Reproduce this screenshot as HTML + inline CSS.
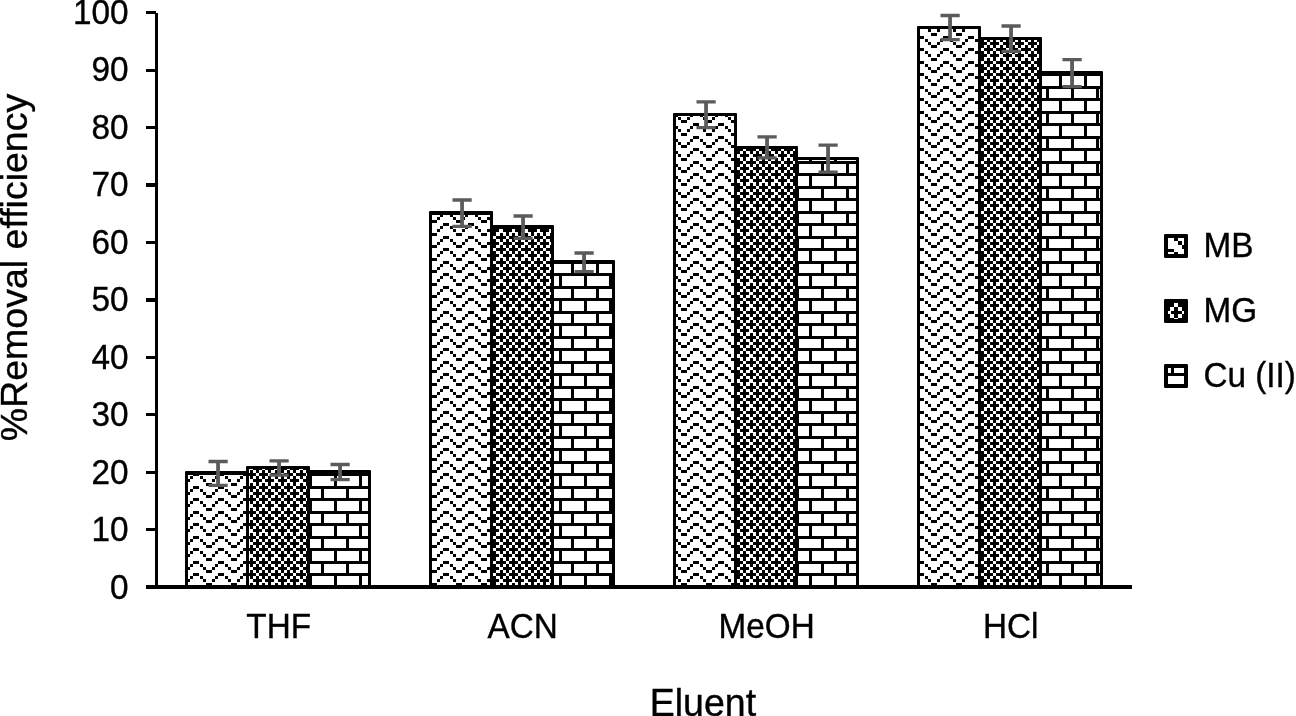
<!DOCTYPE html>
<html lang="en">
<head>
<meta charset="utf-8">
<title>Removal efficiency by eluent</title>
<style>
html,body{margin:0;padding:0;background:#fff;}
body{width:1296px;height:716px;overflow:hidden;font-family:"Liberation Sans",Arial,sans-serif;}
svg{display:block;}
</style>
</head>
<body>
<svg width="1296" height="716" viewBox="0 0 1296 716">
<defs>
<pattern id="pz" patternUnits="userSpaceOnUse" x="0" y="0" width="25" height="25">
<rect width="25" height="25" fill="#fff"/>
<path d="M-4 -2h3v3h-3zM18 -2h3v3h-3zM21 -2h3v3h-3zM0 1h3v3h-3zM15 1h3v3h-3zM25 1h3v3h-3zM3 4h3v3h-3zM12 4h3v3h-3zM6 8h3v3h-3zM9 8h3v3h-3zM-4 11h3v3h-3zM18 11h3v3h-3zM21 11h3v3h-3zM0 14h3v3h-3zM15 14h3v3h-3zM25 14h3v3h-3zM3 17h3v3h-3zM12 17h3v3h-3zM6 20h3v3h-3zM9 20h3v3h-3zM-4 23h3v3h-3zM18 23h3v3h-3zM21 23h3v3h-3zM0 26h3v3h-3zM15 26h3v3h-3zM25 26h3v3h-3z" fill="#000" shape-rendering="crispEdges"/>
</pattern>
<pattern id="pt" patternUnits="userSpaceOnUse" x="0" y="0" width="25" height="25">
<rect width="25" height="25" fill="#fff"/>
<path d="M-4 -2h4v3h-4zM0 -2h3v3h-3zM3 -2h3v3h-3zM9 -2h3v3h-3zM12 -2h3v3h-3zM15 -2h3v3h-3zM21 -2h4v3h-4zM25 -2h3v3h-3zM0 1h3v3h-3zM6 1h3v3h-3zM12 1h3v3h-3zM18 1h3v3h-3zM25 1h3v3h-3zM-4 4h3v3h-3zM3 4h3v3h-3zM6 4h3v4h-3zM9 4h3v3h-3zM15 4h3v3h-3zM18 4h3v4h-3zM21 4h3v3h-3zM0 8h3v3h-3zM6 8h3v3h-3zM12 8h3v3h-3zM18 8h3v3h-3zM25 8h3v3h-3zM-4 11h4v3h-4zM0 11h3v3h-3zM3 11h3v3h-3zM9 11h3v3h-3zM12 11h3v3h-3zM15 11h3v3h-3zM21 11h4v3h-4zM25 11h3v3h-3zM0 14h3v3h-3zM6 14h3v3h-3zM12 14h3v3h-3zM18 14h3v3h-3zM25 14h3v3h-3zM-4 17h3v3h-3zM3 17h3v3h-3zM6 17h3v3h-3zM9 17h3v3h-3zM15 17h3v3h-3zM18 17h3v3h-3zM21 17h3v3h-3zM0 20h3v3h-3zM6 20h3v3h-3zM12 20h3v3h-3zM18 20h3v3h-3zM25 20h3v3h-3zM-4 23h4v3h-4zM0 23h3v3h-3zM3 23h3v3h-3zM9 23h3v3h-3zM12 23h3v3h-3zM15 23h3v3h-3zM21 23h4v3h-4zM25 23h3v3h-3zM0 26h3v3h-3zM6 26h3v3h-3zM12 26h3v3h-3zM18 26h3v3h-3zM25 26h3v3h-3z" fill="#000" shape-rendering="crispEdges"/>
</pattern>
<pattern id="pb" patternUnits="userSpaceOnUse" x="0" y="0" width="25" height="25">
<rect width="25" height="25" fill="#fff"/>
<path d="M-4 -2h4v3h-4zM0 -2h3v3h-3zM3 -2h3v3h-3zM6 -2h3v3h-3zM9 -2h3v3h-3zM12 -2h3v3h-3zM15 -2h3v3h-3zM18 -2h3v3h-3zM21 -2h4v3h-4zM25 -2h3v3h-3zM9 1h3v3h-3zM9 4h3v4h-3zM9 8h3v3h-3zM-4 11h4v3h-4zM0 11h3v3h-3zM3 11h3v3h-3zM6 11h3v3h-3zM9 11h3v3h-3zM12 11h3v3h-3zM15 11h3v3h-3zM18 11h3v3h-3zM21 11h4v3h-4zM25 11h3v3h-3zM-4 14h3v3h-3zM21 14h3v3h-3zM-4 17h3v3h-3zM21 17h3v3h-3zM-4 20h3v3h-3zM21 20h3v3h-3zM-4 23h4v3h-4zM0 23h3v3h-3zM3 23h3v3h-3zM6 23h3v3h-3zM9 23h3v3h-3zM12 23h3v3h-3zM15 23h3v3h-3zM18 23h3v3h-3zM21 23h4v3h-4zM25 23h3v3h-3zM9 26h3v3h-3z" fill="#000" shape-rendering="crispEdges"/>
</pattern>
</defs>
<rect width="1296" height="716" fill="#fff"/>
<g id="bars">
<rect x="185" y="471" width="64" height="117" rx="1" fill="#000"/>
<rect x="246" y="466" width="64" height="122" rx="1" fill="#000"/>
<rect x="307" y="470" width="64" height="118" rx="1" fill="#000"/>
<rect x="429" y="211" width="64" height="377" rx="1" fill="#000"/>
<rect x="490" y="225" width="64" height="363" rx="1" fill="#000"/>
<rect x="551" y="260" width="64" height="328" rx="1" fill="#000"/>
<rect x="673" y="113" width="64" height="475" rx="1" fill="#000"/>
<rect x="734" y="146" width="64" height="442" rx="1" fill="#000"/>
<rect x="795" y="157" width="64" height="431" rx="1" fill="#000"/>
<rect x="917" y="26" width="64" height="562" rx="1" fill="#000"/>
<rect x="978" y="37" width="64" height="551" rx="1" fill="#000"/>
<rect x="1039" y="71" width="64" height="517" rx="1" fill="#000"/>
<rect x="188" y="475" width="58" height="110" fill="url(#pz)" shape-rendering="crispEdges"/>
<rect x="249" y="469" width="58" height="116" fill="url(#pt)" shape-rendering="crispEdges"/>
<rect x="310" y="473" width="58" height="112" fill="url(#pb)" shape-rendering="crispEdges"/>
<rect x="432" y="215" width="58" height="370" fill="url(#pz)" shape-rendering="crispEdges"/>
<rect x="493" y="229" width="58" height="356" fill="url(#pt)" shape-rendering="crispEdges"/>
<rect x="554" y="264" width="58" height="321" fill="url(#pb)" shape-rendering="crispEdges"/>
<rect x="676" y="116" width="58" height="469" fill="url(#pz)" shape-rendering="crispEdges"/>
<rect x="737" y="149" width="58" height="436" fill="url(#pt)" shape-rendering="crispEdges"/>
<rect x="798" y="160" width="58" height="425" fill="url(#pb)" shape-rendering="crispEdges"/>
<rect x="920" y="29" width="58" height="556" fill="url(#pz)" shape-rendering="crispEdges"/>
<rect x="981" y="40" width="58" height="545" fill="url(#pt)" shape-rendering="crispEdges"/>
<rect x="1042" y="74" width="58" height="511" fill="url(#pb)" shape-rendering="crispEdges"/>
</g>
<g id="errorbars" stroke="#5b5b5b" fill="none">
<path d="M218.05 461.5V485.3" stroke-width="3.8"/><path d="M208.5 461.5H227.7M208.5 485.3H227.7" stroke-width="3.3"/>
<path d="M279.05 460.8V475.1" stroke-width="3.8"/><path d="M269.5 460.8H288.7M269.5 475.1H288.7" stroke-width="3.3"/>
<path d="M340.05 464.5V479.6" stroke-width="3.8"/><path d="M330.5 464.5H349.7M330.5 479.6H349.7" stroke-width="3.3"/>
<path d="M462.05 200V226.4" stroke-width="3.8"/><path d="M452.5 200H471.7M452.5 226.4H471.7" stroke-width="3.3"/>
<path d="M523.05 216V238.3" stroke-width="3.8"/><path d="M513.5 216H532.7M513.5 238.3H532.7" stroke-width="3.3"/>
<path d="M584.05 253V271.6" stroke-width="3.8"/><path d="M574.5 253H593.7M574.5 271.6H593.7" stroke-width="3.3"/>
<path d="M706.05 101.9V127.6" stroke-width="3.8"/><path d="M696.5 101.9H715.7M696.5 127.6H715.7" stroke-width="3.3"/>
<path d="M767.05 136.8V157.9" stroke-width="3.8"/><path d="M757.5 136.8H776.7M757.5 157.9H776.7" stroke-width="3.3"/>
<path d="M828.05 145.2V172.1" stroke-width="3.8"/><path d="M818.5 145.2H837.7M818.5 172.1H837.7" stroke-width="3.3"/>
<path d="M950.05 15.5V39.6" stroke-width="3.8"/><path d="M940.5 15.5H959.7M940.5 39.6H959.7" stroke-width="3.3"/>
<path d="M1011.05 26V51.3" stroke-width="3.8"/><path d="M1001.5 26H1020.7M1001.5 51.3H1020.7" stroke-width="3.3"/>
<path d="M1072.05 59.6V86.7" stroke-width="3.8"/><path d="M1062.5 59.6H1081.7M1062.5 86.7H1081.7" stroke-width="3.3"/>
</g>
<g id="axes" fill="#000" shape-rendering="crispEdges">
<rect x="155" y="13" width="3" height="575"/>
<rect x="146" y="585" width="986" height="4"/>
<rect x="146" y="528" width="10" height="3"/>
<rect x="146" y="471" width="10" height="3"/>
<rect x="146" y="413" width="10" height="3"/>
<rect x="146" y="356" width="10" height="3"/>
<rect x="146" y="298" width="10" height="4"/>
<rect x="146" y="241" width="10" height="3"/>
<rect x="146" y="183" width="10" height="4"/>
<rect x="146" y="126" width="10" height="3"/>
<rect x="146" y="69" width="10" height="3"/>
<rect x="146" y="11" width="10" height="3"/>
</g>
<g font-family="'Liberation Sans', Arial, sans-serif" fill="#000" stroke="#000" stroke-width="0.35">
<g font-size="33.33" text-anchor="end">
<text transform="translate(128.6 598.8) scale(1 1.049)">0</text>
<text transform="translate(128.6 541.3) scale(1 1.049)">10</text>
<text transform="translate(128.6 483.8) scale(1 1.049)">20</text>
<text transform="translate(128.6 426.3) scale(1 1.049)">30</text>
<text transform="translate(128.6 368.8) scale(1 1.049)">40</text>
<text transform="translate(128.6 311.3) scale(1 1.049)">50</text>
<text transform="translate(128.6 253.8) scale(1 1.049)">60</text>
<text transform="translate(128.6 196.3) scale(1 1.049)">70</text>
<text transform="translate(128.6 138.8) scale(1 1.049)">80</text>
<text transform="translate(128.6 81.3) scale(1 1.049)">90</text>
<text transform="translate(128.6 23.8) scale(1 1.049)">100</text>
</g>
<g font-size="33.33" text-anchor="middle">
<text transform="translate(278.7 638) scale(1 1.049)">THF</text>
<text transform="translate(522.7 638) scale(1 1.049)">ACN</text>
<text transform="translate(766.7 638) scale(1 1.049)">MeOH</text>
<text transform="translate(1010.7 638) scale(1 1.049)">HCl</text>
</g>
<text font-size="37.5" text-anchor="middle" transform="translate(702.9 715.6) scale(1 1.02)">Eluent</text>
<text font-size="37.5" text-anchor="middle" transform="translate(27.1 267.5) rotate(-90)">%Removal efficiency</text>
<g font-size="33.33">
<rect x="1164" y="234" width="24" height="24" rx="1.2" fill="#000" stroke="none"/>
<path d="M1168 238H1184V254H1168z" fill="#fff" stroke="none" shape-rendering="crispEdges"/>
<path d="M1174 238H1178V241H1174zM1178 241H1182V245H1178zM1182 245H1184V249H1182zM1168 249H1174V252H1168zM1174 252H1178V254H1174z" fill="#000" stroke="none" shape-rendering="crispEdges"/>
<text transform="translate(1203.4 256.9) scale(1 1.049)">MB</text>
<rect x="1164" y="299" width="24" height="24" rx="1.2" fill="#000" stroke="none"/>
<path d="M1174 303H1178V307H1174zM1170 307H1174V311H1170zM1178 307H1182V311H1178zM1168 311H1171V314H1168zM1182 311H1184V314H1182zM1170 314H1174V318H1170zM1178 314H1182V318H1178zM1174 318H1178V319H1174z" fill="#fff" stroke="none" shape-rendering="crispEdges"/>
<text transform="translate(1203.4 321.9) scale(1 1.049)">MG</text>
<rect x="1164" y="364" width="24" height="24" rx="1.2" fill="#000" stroke="none"/>
<path d="M1168 368H1171V373H1168zM1174 368H1184V373H1174zM1168 376H1184V384H1168z" fill="#fff" stroke="none" shape-rendering="crispEdges"/>
<text transform="translate(1203.4 386.9) scale(1 1.049)">Cu (II)</text>
</g>
</g>
</svg>
</body>
</html>
